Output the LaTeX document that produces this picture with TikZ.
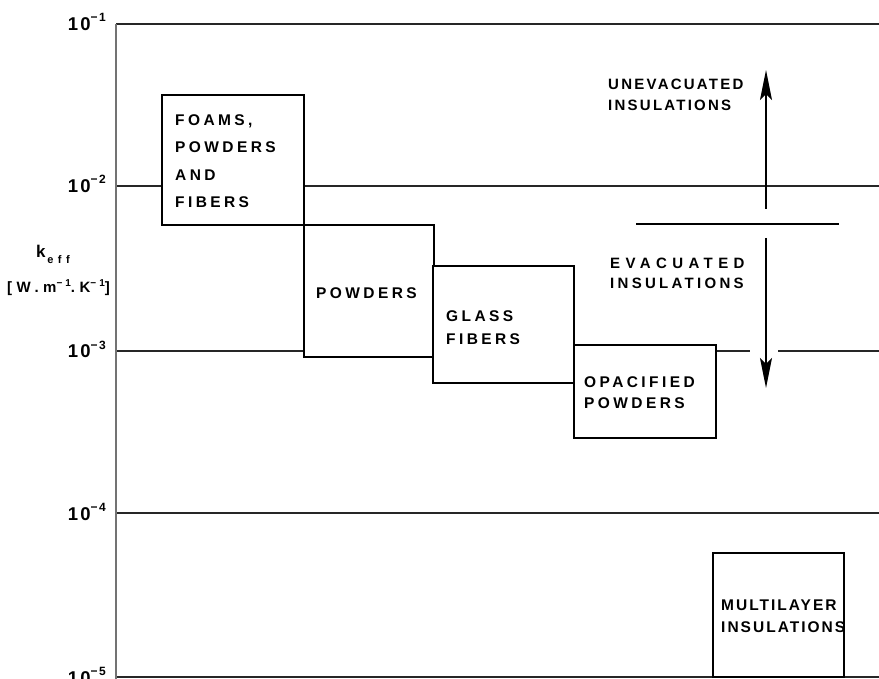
\documentclass[tikz,border=0pt]{standalone}
\usepackage{fontspec}
\usetikzlibrary{arrows.meta}
\newfontfamily\lblfont{Liberation Sans}[LetterSpace=22]
\newfontfamily\axfont{Liberation Sans}
\newcommand{\supmin}[1]{\raisebox{9pt}{\fontsize{12}{12}\selectfont\bfseries −#1}}
\begin{document}
\begin{tikzpicture}[x=1pt,y=-1pt,
  gridline/.style={line width=1.2pt, black!85},
  axisline/.style={line width=1.6pt, black!55},
  boxshape/.style={draw, line width=2.8pt, fill=white, inner sep=0pt, outer sep=0pt, anchor=north west},
  boxlabel/.style={font=\lblfont\bfseries\fontsize{15.5}{22}\selectfont, anchor=north west, align=left, inner sep=0pt},
  ylabel/.style={font=\axfont\bfseries\fontsize{18.5}{18.5}\selectfont\addfontfeature{LetterSpace=12}, anchor=base east, inner sep=0pt},
  rangearrow/.style={line width=1.6pt, -{Stealth[length=30pt,width=12pt,inset=6pt]}},
  sepline/.style={line width=1.8pt}]
\useasboundingbox (0,0) rectangle (879,679);

% grid lines
\draw[gridline] (116,24) -- (879,24);
\draw[gridline] (116,186) -- (879,186);
\draw[gridline] (116,351) -- (750,351);
\draw[gridline] (778,351) -- (879,351);
\draw[gridline] (116,513) -- (879,513);
\draw[gridline] (116,677) -- (879,677);
\draw[axisline] (116,24) -- (116,679);

% boxes
\node[boxshape, minimum width=142pt, minimum height=130pt] (foams) at (162,95) {};
\node[boxshape, minimum width=130pt, minimum height=132pt] (powders) at (304,225) {};
\node[boxshape, minimum width=141pt, minimum height=117pt] (glass) at (433,266) {};
\node[boxshape, minimum width=142pt, minimum height=93pt] (opac) at (574,345) {};
\node[boxshape, minimum width=131pt, minimum height=124pt] (multi) at (713,553) {};

% box labels
\node[boxlabel, font=\lblfont\bfseries\fontsize{15.5}{27.5}\selectfont] (tfoams) at (175,114) {FOAMS,\\POWDERS\\AND\\FIBERS};
\node[boxlabel] (tpowders) at (316,287) {POWDERS};
\node[boxlabel, font=\lblfont\bfseries\fontsize{15.5}{23}\selectfont] (tglass) at (446,310) {GLASS\\FIBERS};
\node[boxlabel, font=\lblfont\bfseries\fontsize{15.5}{21}\selectfont] (topac) at (584,376) {OPACIFIED\\POWDERS};
\node[boxlabel, font=\lblfont\bfseries\fontsize{15.5}{22}\selectfont\addfontfeature{LetterSpace=13}] (tmulti) at (721,600) {MULTILAYER\\INSULATIONS};

% range arrows
\coordinate (upstart) at (766,209);
\coordinate (uptip) at (766,70);
\coordinate (downstart) at (766,238);
\coordinate (downtip) at (766,388);
\coordinate (sepL) at (636,224);
\coordinate (sepR) at (839,224);
\draw[rangearrow] (upstart) -- (uptip);
\draw[rangearrow] (downstart) -- (downtip);
\draw[sepline] (sepL) -- (sepR);
\node[boxlabel, font=\lblfont\bfseries\fontsize{15}{21}\selectfont\addfontfeature{LetterSpace=15}] (tunevac) at (608,79) {UNEVACUATED\\INSULATIONS};
\node[boxlabel, font=\lblfont\bfseries\fontsize{15}{20}\selectfont] (tevac) at (610,258) {{\addfontfeature{LetterSpace=36}EVACUATED}\\INSULATIONS};

% axis labels
\node[ylabel] (y1) at (106,31) {10\supmin{1}};
\node[ylabel] (y2) at (106,193) {10\supmin{2}};
\node[ylabel] (y3) at (106,358) {10\supmin{3}};
\node[ylabel] (y4) at (106,520) {10\supmin{4}};
\node[ylabel] (y5) at (106,684) {10\supmin{5}};
\node[font=\axfont\bfseries\fontsize{17}{17}\selectfont, anchor=base west, inner sep=0pt] (keff) at (36,258)
  {k\raisebox{-6pt}{\lblfont\bfseries\fontsize{11}{11}\selectfont\addfontfeature{LetterSpace=40}\,eff}};
\node[font=\lblfont\bfseries\fontsize{15}{15}\selectfont\addfontfeature{LetterSpace=30}, anchor=base west, inner sep=0pt] (unit) at (7,293)
  {[W.m\raisebox{6pt}{\fontsize{10}{10}\selectfont −1}.K\raisebox{6pt}{\fontsize{10}{10}\selectfont −1}]};
\end{tikzpicture}
\end{document}
